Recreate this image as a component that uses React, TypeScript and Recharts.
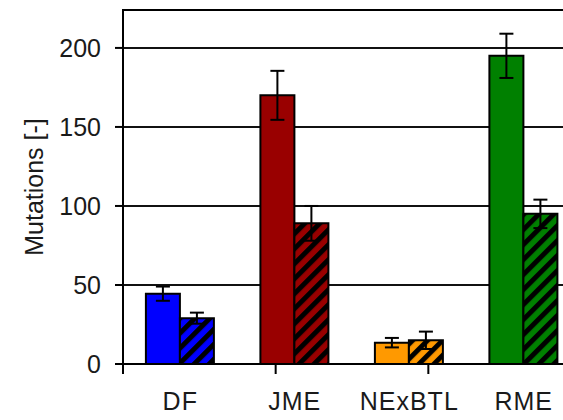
import React from 'react';
import {
  BarChart,
  Bar,
  Cell,
  XAxis,
  YAxis,
  CartesianGrid,
  ErrorBar,
  ReferenceArea,
} from 'recharts';

const categories = ['DF', 'JME', 'NExBTL', 'RME'];
const solidValues = [44.5, 170, 13.5, 195];
const solidErrors = [4.5, 15.5, 3, 14];
const hatchedValues = [29, 89, 15, 95];
const hatchedErrors = [3.5, 11, 5.5, 9];
const colors = ['#0000ff', '#990000', '#ff9900', '#008000'];
const yTicks = [0, 50, 100, 150, 200];
const boundaryTicks = [0, 1, 2, 3, 4];

const data = categories.map((name, i) => ({
  name,
  solid: solidValues[i],
  solidErr: solidErrors[i],
  hatched: hatchedValues[i],
  hatchedErr: hatchedErrors[i],
}));

const FONT = '"Liberation Sans", Arial, sans-serif';

// boundary axis: only tick lines, no labels
const NoLabel = () => <g />;

export default function App() {
  return (
    <div style={{ position: 'absolute', left: 0, top: 0, width: 563, height: 420, overflow: 'hidden', background: '#fff' }}>
      <BarChart
        width={586}
        height={420}
        data={data}
        margin={{ top: 10, right: 5, bottom: 0, left: 0 }}
        barCategoryGap="20%"
        barGap={0}
      >
        <defs>
          {colors.map((c, i) => (
            <pattern
              key={i}
              id={`hatch-${i}`}
              patternUnits="userSpaceOnUse"
              width={10.6}
              height={10.6}
              patternTransform="rotate(45)"
            >
              <rect x={0} y={0} width={10.6} height={10.6} fill={c} />
              <rect x={0} y={0} width={5} height={10.6} fill="#000" />
            </pattern>
          ))}
        </defs>
        <CartesianGrid vertical={false} stroke="#111" strokeWidth={2} yAxisId="y" xAxisId="b" />
        <ReferenceArea y1={0} y2={224} yAxisId="y" xAxisId="b" fill="none" stroke="#000" strokeWidth={2} />
        <XAxis
          xAxisId="a"
          type="number"
          domain={[0, 4]}
          ticks={boundaryTicks}
          allowDataOverflow
          height={1}
          tick={NoLabel}
          tickSize={10}
          tickLine={{ stroke: '#000', strokeWidth: 2 }}
          axisLine={{ stroke: '#000', strokeWidth: 2 }}
        />
        <XAxis
          xAxisId="b"
          dataKey="name"
          height={55}
          tickLine={false}
          axisLine={false}
          tickSize={0}
          tickMargin={27}
          tick={{ fontSize: 25, fill: '#1a1a1a', fontFamily: FONT, letterSpacing: 1 }}
        />
        <YAxis
          yAxisId="y"
          width={123}
          domain={[0, 224]}
          ticks={yTicks}
          allowDataOverflow
          tickSize={8}
          tickMargin={14}
          axisLine={{ stroke: '#000', strokeWidth: 2 }}
          tickLine={{ stroke: '#000', strokeWidth: 2 }}
          tick={{ fontSize: 25, fill: '#1a1a1a', fontFamily: FONT }}
          label={{
            value: 'Mutations [-]',
            angle: -90,
            position: 'insideLeft',
            offset: 34,
            style: { textAnchor: 'middle', fontSize: 25, fill: '#1a1a1a', fontFamily: FONT },
          }}
        />
        <Bar dataKey="solid" xAxisId="b" yAxisId="y" stroke="#000" strokeWidth={2} isAnimationActive={false}>
          {data.map((_, i) => (
            <Cell key={i} fill={colors[i]} />
          ))}
          <ErrorBar dataKey="solidErr" width={7} stroke="#000" strokeWidth={2} isAnimationActive={false} />
        </Bar>
        <Bar dataKey="hatched" xAxisId="b" yAxisId="y" stroke="#000" strokeWidth={2} isAnimationActive={false}>
          {data.map((_, i) => (
            <Cell key={i} fill={`url(#hatch-${i})`} />
          ))}
          <ErrorBar dataKey="hatchedErr" width={7} stroke="#000" strokeWidth={2} isAnimationActive={false} />
        </Bar>
      </BarChart>
    </div>
  );
}
